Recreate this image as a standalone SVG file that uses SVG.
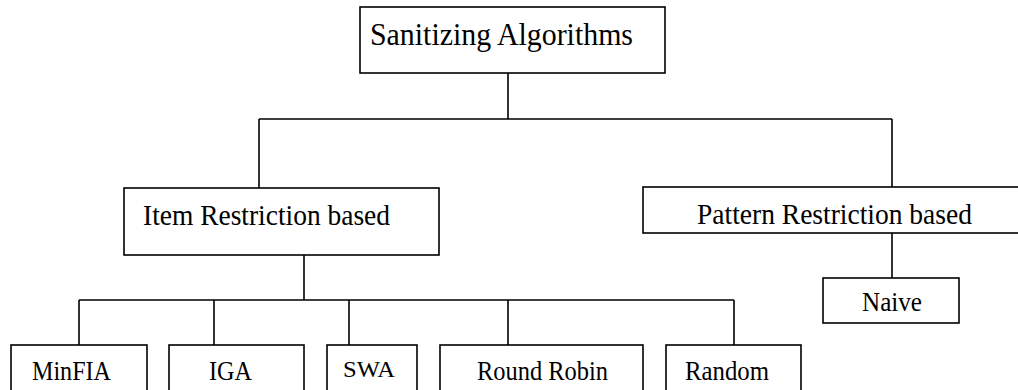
<svg xmlns="http://www.w3.org/2000/svg" width="1018" height="390" viewBox="0 0 1018 390">
<style>
.box{fill:#fff;stroke:#000;stroke-width:1.6}
.ln{fill:none;stroke:#000;stroke-width:1.6}
text{font-family:"Liberation Serif","Times New Roman",serif;fill:#000}
</style>
<rect width="1018" height="390" fill="#fff"/>
<g id="connectors">
<path class="ln" d="M508,73 V119 M259,119 H892 M259,119 V188 M892,119 V187"/>
<path class="ln" d="M304,255 V300 M79,300 H734 M79,300 V345 M214,300 V345 M349,300 V345 M508,300 V345 M734,300 V345"/>
<path class="ln" d="M892,233 V278"/>
</g>
<g id="root"><rect class="box" x="360" y="7" width="305" height="66"/><text x="370" y="45" font-size="31.5" textLength="263" lengthAdjust="spacingAndGlyphs">Sanitizing Algorithms</text></g>
<g id="item"><rect class="box" x="124" y="188" width="315" height="67"/><text x="143" y="225" font-size="29.5" textLength="247" lengthAdjust="spacingAndGlyphs">Item Restriction based</text></g>
<g id="pattern"><rect class="box" x="643" y="187" width="390" height="46"/><text x="697" y="224" font-size="29.5" textLength="275" lengthAdjust="spacingAndGlyphs">Pattern Restriction based</text></g>
<g id="naive"><rect class="box" x="823" y="278" width="136" height="45"/><text x="862" y="311" font-size="26.5" textLength="60" lengthAdjust="spacingAndGlyphs">Naive</text></g>
<g id="minfia"><rect class="box" x="11" y="345" width="136" height="60"/><text x="32" y="379.5" font-size="26.5" textLength="79" lengthAdjust="spacingAndGlyphs">MinFIA</text></g>
<g id="iga"><rect class="box" x="169" y="345" width="135" height="60"/><text x="209" y="379.5" font-size="26.5" textLength="43" lengthAdjust="spacingAndGlyphs">IGA</text></g>
<g id="swa"><rect class="box" x="327" y="345" width="90" height="60"/><text x="343" y="377" font-size="23" textLength="52" lengthAdjust="spacingAndGlyphs">SWA</text></g>
<g id="roundrobin"><rect class="box" x="440" y="345" width="203" height="60"/><text x="477" y="379.5" font-size="26.5" textLength="131" lengthAdjust="spacingAndGlyphs">Round Robin</text></g>
<g id="random"><rect class="box" x="666" y="345" width="135" height="60"/><text x="685" y="379.5" font-size="26.5" textLength="84" lengthAdjust="spacingAndGlyphs">Random</text></g>
</svg>
